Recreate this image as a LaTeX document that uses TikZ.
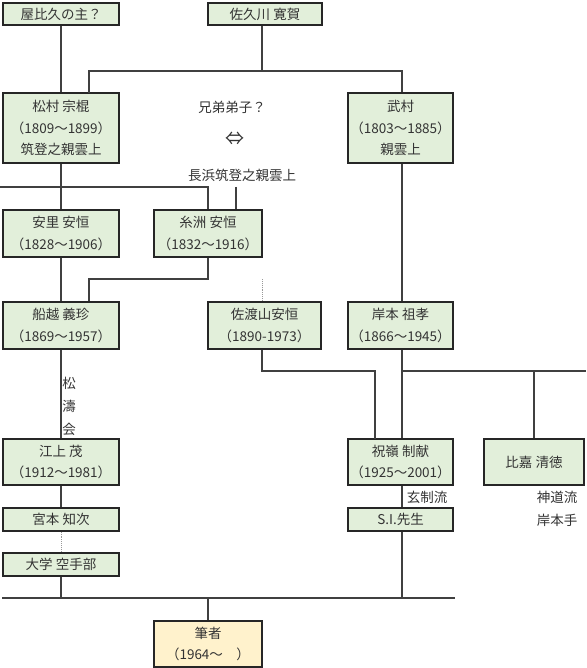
\documentclass[tikz,border=0pt]{standalone}
\usepackage{fontspec}
\setmainfont{Noto Sans CJK JP}
\usetikzlibrary{calc}
\definecolor{boxfill}{HTML}{E2EFDA}
\definecolor{authfill}{HTML}{FFF2CC}
\definecolor{edgec}{HTML}{262626}
\definecolor{linec}{HTML}{404040}
\definecolor{txtc}{HTML}{333333}
\begin{document}
\begin{tikzpicture}[x=1pt,y=-1pt,
  pbox/.style={draw=edgec, line width=1.5pt, fill=boxfill, text=txtc, align=center, inner sep=1pt,
    font=\fontsize{13.5}{21.5}\selectfont},
  abox/.style={pbox, fill=authfill},
  conn/.style={draw=linec, line width=1.2pt},
  dotc/.style={draw=gray!80, line width=0.9pt, densely dotted},
  lbl/.style={text=txtc, inner sep=0pt, font=\fontsize{13.5}{15}\selectfont}]
\useasboundingbox (0,0) rectangle (586,668);
\fill[white] (0,0) rectangle (586,668);

% boxes
\node[pbox, minimum width=116pt, minimum height=22pt] (yabiku) at (61,14) {屋比久の主？};
\node[pbox, minimum width=114pt, minimum height=22pt] (sakugawa) at (265,14) {佐久川 寛賀};
\node[pbox, minimum width=116pt, minimum height=70pt] (matsumura) at (61,128) {松村 宗棍\\（1809～1899）\\筑登之親雲上};
\node[pbox, minimum width=105pt, minimum height=70pt] (bushi) at (400.5,128) {武村\\（1803～1885）\\親雲上};
\node[pbox, minimum width=116pt, minimum height=47pt] (asato) at (61,233.5) {安里 安恒\\（1828～1906）};
\node[pbox, minimum width=108pt, minimum height=47pt] (itosu) at (208,233.5) {糸洲 安恒\\（1832～1916）};
\node[pbox, minimum width=116pt, minimum height=47pt] (funakoshi) at (61,325.5) {船越 義珍\\（1869～1957）};
\node[pbox, minimum width=113pt, minimum height=47pt] (sadoyama) at (264.5,325.5) {佐渡山安恒\\（1890-1973）};
\node[pbox, minimum width=105pt, minimum height=47pt] (kishimoto) at (400.5,325.5) {岸本 祖孝\\（1866～1945）};
\node[pbox, minimum width=116pt, minimum height=46pt] (egami) at (61,462) {江上 茂\\（1912～1981）};
\node[pbox, minimum width=105pt, minimum height=46pt] (chinen) at (400.5,462) {祝嶺 制献\\（1925～2001）};
\node[pbox, minimum width=100pt, minimum height=46pt] (higa) at (534,462) {比嘉 清徳};
\node[pbox, minimum width=116pt, minimum height=23pt] (miyamoto) at (61,519.5) {宮本 知次};
\node[pbox, minimum width=105pt, minimum height=23pt] (si) at (400.5,519.5) {S.I.先生};
\node[pbox, minimum width=116pt, minimum height=23pt] (daigaku) at (61,564.5) {大学 空手部};
\node[abox, minimum width=108pt, minimum height=46pt] (author) at (208,644) {筆者\\（1964～　）};

% labels
\node[lbl] (kyodai) at (232,107) {兄弟弟子？};
\node[lbl, font=\fontsize{19}{19}\selectfont] (arrowlr) at (235,139) {⇔};
\node[lbl] (nagahama) at (242,175) {長浜筑登之親雲上};
\node[lbl] (sho1) at (69,383) {松};
\node[lbl] (sho2) at (69,406) {濤};
\node[lbl] (sho3) at (69,429) {会};
\node[lbl] (gensei) at (427,497) {玄制流};
\node[lbl] (shindo) at (557,497) {神道流};
\node[lbl] (kishite) at (557,520) {岸本手};

% junction coordinates
\coordinate (sk) at (262,71);
\coordinate (mt) at (89,93);
\coordinate (lft) at (0,187);
\coordinate (nh) at (236,187);
\coordinate (ij) at (89,279);
\coordinate (sdt) at (262,279);
\coordinate (sdj) at (262,371);
\coordinate (cj) at (375,439);
\coordinate (rgt) at (586,371);
\coordinate (bl) at (2,598);
\coordinate (br) at (455,598);
\coordinate (siend) at (402,598);
\coordinate (dgend) at (61,598);
\coordinate (auj) at (208,598);

% connectors
\draw[conn] (yabiku.south) -- (matsumura.north);
\draw[conn] (sakugawa.south -| sk) -- (sk);
\draw[conn] (mt) |- (sk) -| (bushi.north -| 402,0);
\draw[conn] (matsumura.south) -- (asato.north);
\draw[conn] (lft) -| (itosu.north);
\draw[conn] (nh) -- (itosu.north -| nh);
\draw[conn] (bushi.south -| 402,0) -- (kishimoto.north -| 402,0);
\draw[conn] (asato.south) -- (funakoshi.north);
\draw[conn] (itosu.south) |- (ij) -- (funakoshi.north -| ij);
\draw[dotc] (sdt) -- (sadoyama.north -| sdt);
\draw[conn] (funakoshi.south) -- (egami.north);
\draw[conn] (sadoyama.south -| sdj) -- (sdj) -| (cj);
\draw[conn] (kishimoto.south -| 402,0) -- (chinen.north -| 402,0);
\draw[conn] (402,371) -- (rgt);
\draw[conn] (higa.north |- rgt) -- (higa.north);
\draw[conn] (chinen.south -| 402,0) -- (si.north -| 402,0);
\draw[conn] (egami.south) -- (miyamoto.north);
\draw[dotc] (miyamoto.south) -- (daigaku.north);
\draw[conn] (daigaku.south) -- (dgend);
\draw[conn] (bl) -- (br);
\draw[conn] (si.south -| siend) -- (siend);
\draw[conn] (auj) -- (author.north);
\end{tikzpicture}
\end{document}
